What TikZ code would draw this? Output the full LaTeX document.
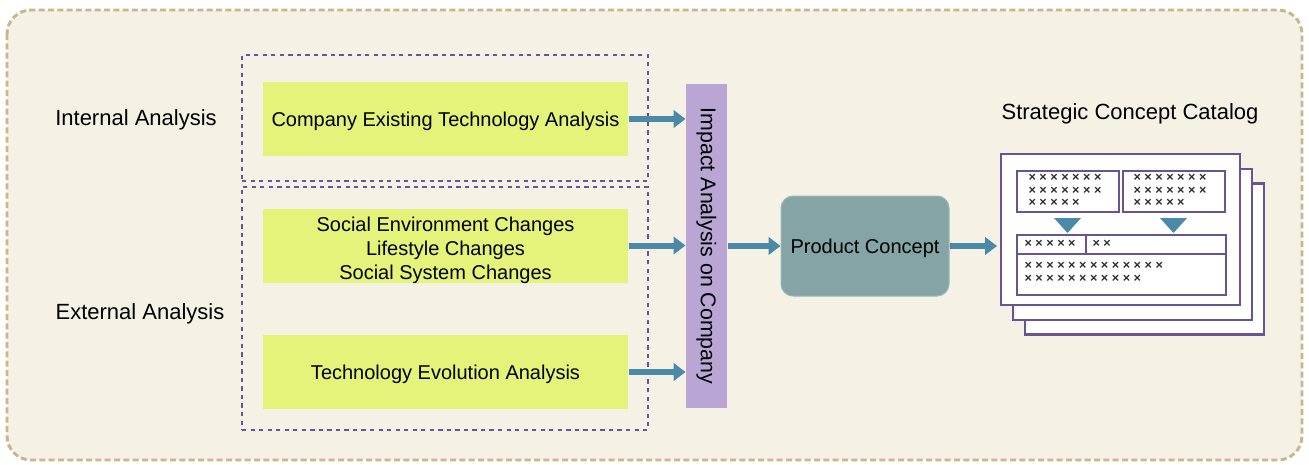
\documentclass[tikz,border=0pt]{standalone}
\usepackage{fontspec}
\setmainfont{Liberation Sans}
\usetikzlibrary{arrows.meta}
\definecolor{bgfill}{RGB}{245,241,228}
\definecolor{bgline}{RGB}{200,182,140}
\definecolor{dotline}{RGB}{104,84,156}
\definecolor{greenfill}{RGB}{230,243,122}
\definecolor{barfill}{RGB}{186,166,212}
\definecolor{flowblue}{RGB}{74,138,168}
\definecolor{conceptfill}{RGB}{132,164,166}
\definecolor{pageline}{RGB}{104,84,146}
\definecolor{markgray}{RGB}{45,45,45}

\tikzset{every picture/.style={line width=0.75pt}}
\tikzset{
  greenbox/.style={fill=greenfill, minimum width=273.75pt, minimum height=55.5pt, align=center, text depth=0pt, font=\fontsize{15}{18}\selectfont},
  sidelabel/.style={text depth=0pt, font=\fontsize{16.5}{20}\selectfont},
  dotbox/.style={draw=dotline, line width=2.2pt, dash pattern={on 3.2pt off 3.2pt}},
  flowarrow/.style={draw=flowblue, line width=4.5pt, -{Triangle[length=9pt,width=13pt]}},
  page/.style={draw=pageline, fill=white, line width=1.9pt, minimum width=179.25pt, minimum height=113.25pt},
  marks/.style={anchor=north west, inner sep=0pt, align=left, text=markgray, font=\fontsize{9.5}{9.4}\selectfont\bfseries}
}

\begin{document}
\begin{tikzpicture}[x=0.75pt,y=0.75pt,yscale=-1,xscale=1]
\useasboundingbox (0,0) rectangle (1309,464);
%Rounded Rect: background
\draw [draw=bgline, fill=bgfill, line width=2.2pt, dash pattern={on 4.5pt off 2.5pt}, rounded corners=18pt] (7,10) rectangle (1302,460);
%Dotted boxes
\node [dotbox, minimum width=304.5pt, minimum height=94.5pt] (intbox) at (445,118) {};
\node [dotbox, minimum width=304.5pt, minimum height=182.25pt] (extbox) at (445,308.5) {};
% Text Node
\node [sidelabel] (intlabel) at (136,118) {Internal Analysis};
% Text Node
\node [sidelabel] (extlabel) at (140,312) {External Analysis};
%Shape: Rectangle
\node [greenbox] (techana) at (445.5,119) {Company Existing Technology Analysis};
%Shape: Rectangle
\node [greenbox] (social) at (445.5,245.5) {};
\node [greenbox, fill=none] (socialtext) at (445.5,248) {Social Environment Changes\\Lifestyle Changes\\Social System Changes};
%Shape: Rectangle
\node [greenbox] (techevo) at (445.5,372) {Technology Evolution Analysis};
%Shape: Rectangle
\node [fill=barfill, minimum width=30.75pt, minimum height=243pt] (impact) at (706.5,246) {};
\node [rotate=-90, font=\fontsize{16}{18}\selectfont] (impacttext) at (impact.center) {Impact Analysis on Company};
%Rounded Rect
\node [draw=conceptfill!80!white, fill=conceptfill, rounded corners=9pt, minimum width=126pt, minimum height=75pt, text depth=0pt, font=\fontsize{15}{18}\selectfont] (concept) at (865,246) {Product Concept};
% Text Node
\node [sidelabel] (catlabel) at (1130,112) {Strategic Concept Catalog};
%Pages of the catalog
\node [page] (page3) at (1144.5,259) {};
\node [page] (page2) at (1132.5,244.5) {};
\node [page] (page1) at (1120.5,229.5) {};
%Inner boxes
\draw [draw=pageline, line width=1.2pt] (1017,171) rectangle (1119,212);
\draw [draw=pageline, line width=1.2pt] (1123,171) rectangle (1225,212);
\draw [draw=pageline, line width=1.2pt] (1017,235) rectangle (1226,295);
\draw [draw=pageline, line width=1.2pt] (1017,254) -- (1226,254);
\draw [draw=pageline, line width=1.2pt] (1086,235) -- (1086,254);
%Triangles
\fill [flowblue] (1054,218) -- (1081,218) -- (1067.5,233) -- cycle;
\fill [flowblue] (1160,218) -- (1187,218) -- (1173.5,233) -- cycle;
% Text Node
\node [marks] (marksa) at (1028,174) {× × × × × × ×\\× × × × × × ×\\× × × × ×};
\node [marks] (marksb) at (1133,174) {× × × × × × ×\\× × × × × × ×\\× × × × ×};
\node [marks] (marksc) at (1024,240) {× × × × ×};
\node [marks] (marksd) at (1092,240) {× ×};
\node [marks] (markse) at (1024,262) {× × × × × × × × × × × × ×\\× × × × × × × × × × ×};
%Straight Lines: arrows
\draw [flowarrow] (techana.east) -- (techana.east -| impact.west);
\draw [flowarrow] (social.east) -- (social.east -| impact.west);
\draw [flowarrow] (techevo.east) -- (techevo.east -| impact.west);
\draw [flowarrow] (impact.east |- concept.west) -- (concept.west);
\draw [flowarrow] (concept.east) -- ([xshift=-2pt]concept.east -| page1.west);
\end{tikzpicture}
\end{document}
